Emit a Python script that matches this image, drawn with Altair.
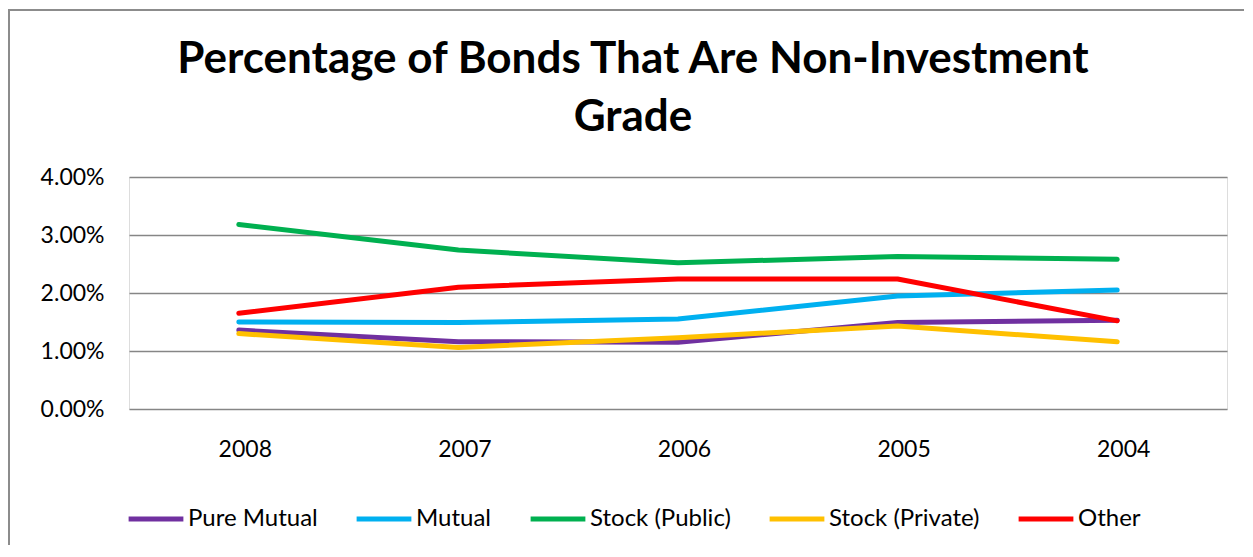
import altair as alt
import pandas as pd

years = ["2008", "2007", "2006", "2005", "2004"]
series_names = ["Pure Mutual", "Mutual", "Stock (Public)", "Stock (Private)", "Other"]
pure_mutual = [0.0136, 0.0116, 0.0115, 0.0149, 0.0153]
mutual = [0.0150, 0.0149, 0.0155, 0.0195, 0.0205]
stock_public = [0.0318, 0.0274, 0.0252, 0.0263, 0.0258]
stock_private = [0.0130, 0.0106, 0.0123, 0.0143, 0.0116]
other = [0.0165, 0.0210, 0.0224, 0.0224, 0.0152]
colors = ["#7030A0", "#00B0F0", "#00B050", "#FFC000", "#FF0000"]

rows = []
for name, vals in zip(series_names, [pure_mutual, mutual, stock_public, stock_private, other]):
    for i, (yr, v) in enumerate(zip(years, vals)):
        rows.append({"Year": yr, "Series": name, "Value": v, "order": i})
df = pd.DataFrame(rows)

W, H = 1098, 232
FONT = "Lato"

lines = alt.Chart(df).mark_line(strokeWidth=5, strokeCap="round", strokeJoin="round").encode(
    x=alt.X("Year:N", sort=years, title=None,
            scale=alt.Scale(type="point", padding=0.5),
            axis=alt.Axis(labelAngle=0, ticks=False, domain=False, grid=False,
                          labelFontSize=23, labelFont=FONT, labelColor="#000000",
                          labelPadding=29, labelOffset=6)),
    y=alt.Y("Value:Q", title=None,
            scale=alt.Scale(domain=[0, 0.04]),
            axis=alt.Axis(values=[0, 0.01, 0.02, 0.03, 0.04], format=".2%",
                          ticks=False, domain=False, gridColor="#868686", gridWidth=1.5,
                          labelFontSize=23, labelFont=FONT, labelColor="#000000",
                          labelPadding=25)),
    color=alt.Color("Series:N", sort=series_names,
                    scale=alt.Scale(domain=series_names, range=colors),
                    legend=alt.Legend(title=None, orient="none", direction="horizontal",
                                      legendX=-3, legendY=312,
                                      symbolType="stroke", symbolSize=3000,
                                      symbolStrokeWidth=5, labelFontSize=24,
                                      labelFont=FONT, labelColor="#000000",
                                      labelOffset=2, columnPadding=28)),
    order=alt.Order("order:Q"),
)

border_left = alt.Chart(pd.DataFrame({"a": [0]})).mark_rule(color="#8c8c8c", strokeWidth=2).encode(
    x=alt.value(-120), y=alt.value(-168), y2=alt.value(368))
border_top = alt.Chart(pd.DataFrame({"a": [0]})).mark_rule(color="#8c8c8c", strokeWidth=2).encode(
    x=alt.value(-120), x2=alt.value(1115), y=alt.value(-167))

chart = alt.layer(border_left, border_top, lines).properties(
    width=W, height=H,
    title=alt.TitleParams(
        text=["Percentage of Bonds That Are Non-Investment", "Grade"],
        font=FONT, fontSize=44, fontWeight="bold", color="#000000",
        lineHeight=58, anchor="middle", frame="group", dx=-45, offset=-132),
).configure_view(stroke=None).configure(padding=0)

chart.save("out.html", embed_options={"renderer": "svg", "actions": False})
